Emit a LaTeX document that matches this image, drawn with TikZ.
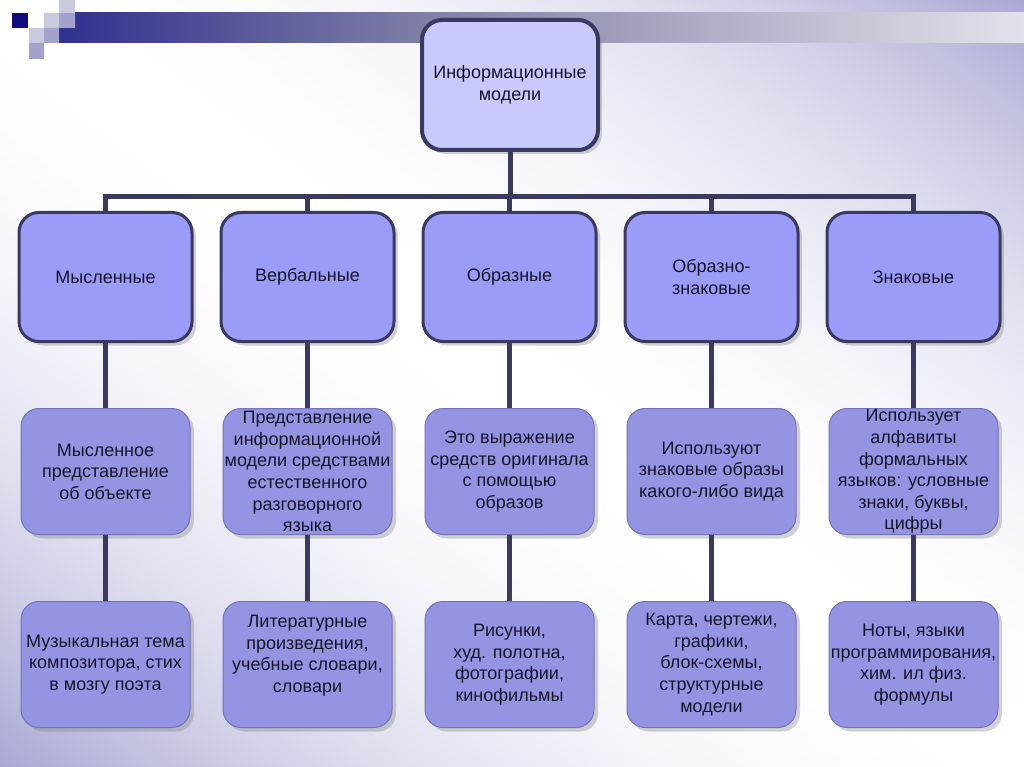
\documentclass[tikz,border=0pt]{standalone}
\usepackage{fontspec}
\setmainfont{Liberation Sans}
\usetikzlibrary{positioning,shadows,shadings}

\definecolor{navy}{HTML}{0C0C7C}
\definecolor{sqlight}{HTML}{CACADF}
\definecolor{sqmid}{HTML}{A2A2CC}
\definecolor{barmid}{HTML}{7E7EA6}
\definecolor{barend}{HTML}{E2E2EA}
\definecolor{linecol}{HTML}{3A3A60}
\definecolor{headfill}{HTML}{C9C9FC}
\definecolor{kindfill}{HTML}{9B9BF8}
\definecolor{descfill}{HTML}{9494E2}
\definecolor{descline}{HTML}{7373B8}
\definecolor{txt}{HTML}{15152A}

% white band from top left to bottom right, bluish towards the other corners
\pgfdeclarefunctionalshading{bgdiag}{\pgfpoint{0bp}{0bp}}{\pgfpoint{100bp}{100bp}}{}{
  add 100 sub 50 div dup mul
  dup 0.34 mul 1 exch sub exch
  dup 0.34 mul 1 exch sub exch
  0.17 mul 1 exch sub}

\begin{document}
\begin{tikzpicture}[x=1pt,y=-1pt,
    every node/.style={font=\fontsize{18}{21.6}\selectfont,text=txt,align=center,inner sep=0pt},
    headbox/.style={draw=linecol,line width=4pt,fill=headfill,rounded corners=20pt,
        minimum width=176pt,minimum height=130pt,
        drop shadow={shadow xshift=4pt,shadow yshift=-4pt,opacity=.35}},
    kindbox/.style={draw=linecol,line width=3pt,fill=kindfill,rounded corners=20pt,
        minimum width=173pt,minimum height=129pt,
        drop shadow={shadow xshift=4pt,shadow yshift=-4pt,opacity=.35}},
    descbox/.style={draw=descline,line width=1pt,fill=descfill,rounded corners=18pt,
        minimum width=169pt,minimum height=126pt,
        drop shadow={shadow xshift=4pt,shadow yshift=-4pt,opacity=.35}},
    connector/.style={draw=linecol,line width=5pt}]

  % background and title bar
  \shade[shading=bgdiag] (0,0) rectangle (1024,767);
  \useasboundingbox (0,0) rectangle (1024,767);
  \shade[left color=navy!85!white,right color=barmid] (59,13) rectangle (420,43);
  \shade[left color=barmid,right color=barend] (420,13) rectangle (1024,43);
  \fill[navy] (12,13) rectangle (28,28);
  \fill[sqlight] (44,13) rectangle (59,28) (59,0) rectangle (75,13) (29,28) rectangle (44,43);
  \fill[sqmid] (59,13) rectangle (75,28) (44,28) rectangle (59,43) (29,43) rectangle (44,59);

  \node[headbox] (info) at (510,85) {Информационные\\модели};

  % kinds of models
  \node[kindbox] (mysl) at (105.5,277)       {Мысленные};
  \node[kindbox] (verb) [right=26pt of mysl] {Вербальные};
  \node[kindbox] (obr)  [right=26pt of verb] {Образные};
  \node[kindbox] (obzn) [right=26pt of obr]  {Образно-\\знаковые};
  \node[kindbox] (zn)   [right=26pt of obzn] {Знаковые};

  % what they are
  \node[descbox] (mysl2) [below=65pt of mysl] {Мысленное\\представление\\об объекте};
  \node[descbox] (verb2) [below=65pt of verb] {Представление\\информационной\\модели средствами\\естественного\\разговорного\\языка};
  \node[descbox] (obr2)  [below=65pt of obr]  {Это выражение\\средств оригинала\\с помощью\\образов};
  \node[descbox] (obzn2) [below=65pt of obzn] {Используют\\знаковые образы\\какого-либо вида};
  \node[descbox] (zn2)   [below=65pt of zn]   {Использует\\алфавиты\\формальных\\языков: условные\\знаки, буквы,\\цифры};

  % examples
  \node[descbox] (mysl3) [below=66pt of mysl2] {Музыкальная тема\\композитора, стих\\в мозгу поэта};
  \node[descbox] (verb3) [below=66pt of verb2] {Литературные\\произведения,\\учебные словари,\\словари\\\mbox{}};
  \node[descbox] (obr3)  [below=66pt of obr2]  {Рисунки,\\худ. полотна,\\фотографии,\\кинофильмы};
  \node[descbox] (obzn3) [below=66pt of obzn2] {Карта, чертежи,\\графики,\\блок-схемы,\\структурные\\модели};
  \node[descbox] (zn3)   [below=66pt of zn2]   {Ноты, языки\\программирования,\\хим. ил физ.\\формулы};

  \coordinate (bus) at (510,197);
  \draw[connector] (info.south) -- (bus);
  \foreach \k in {mysl,verb,obr,obzn,zn}{
    \draw[connector] (\k.north) |- (bus);
    \draw[connector] (\k.south) -- (\k2.north);
    \draw[connector] (\k2.south) -- (\k3.north);
  }
\end{tikzpicture}
\end{document}
